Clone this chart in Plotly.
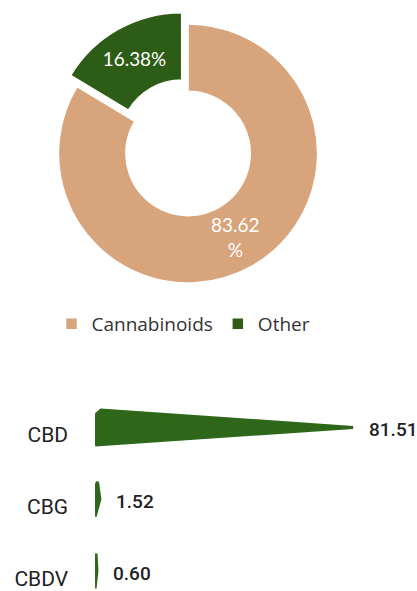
import math
import plotly.graph_objects as go

# ---- data ----
pie_labels = ["Cannabinoids", "Other"]
pie_values = [83.62, 16.38]
pie_colors = ["#D8A47C", "#2C5C16"]

bar_categories = ["CBD", "CBG", "CBDV"]
bar_values = [81.51, 1.52, 0.60]
bar_labels = ["81.51", "1.52", "0.60"]
bar_color = "#2E6719"

W, H = 417, 591
pie_dom_x = [0.108, 0.794]
pie_dom_y = [0.4975, 0.9814]
pie_hole = 0.48
pie_pull = [0, 0.1]

fig = go.Figure()

# ---- donut ----
pie_text = [f"{pie_values[0]:.2f}<br>%", f"{pie_values[1]:.2f}%"]
fig.add_trace(go.Pie(
    labels=pie_labels,
    values=pie_values,
    text=pie_text,
    textinfo="text",
    textposition=["none", "inside"],
    insidetextorientation="horizontal",
    insidetextfont=dict(family="Lato", size=19, color="white"),
    hole=pie_hole,
    sort=False,
    direction="clockwise",
    rotation=0,
    pull=pie_pull,
    marker=dict(colors=pie_colors, line=dict(color="white", width=1.5)),
    domain=dict(x=pie_dom_x, y=pie_dom_y),
    hoverinfo="label+percent",
    showlegend=True,
))

# label of the big slice placed at the middle of its ring section (computed from values)
box_w = (pie_dom_x[1] - pie_dom_x[0]) * W
box_h = (pie_dom_y[1] - pie_dom_y[0]) * H
r_out = min(box_w, box_h) / (2 + 2 * max(pie_pull))
r_mid = r_out * (1 + pie_hole) / 2
total = sum(pie_values)
theta = 2 * math.pi * (pie_values[0] / 2) / total
cx = sum(pie_dom_x) / 2
cy = sum(pie_dom_y) / 2
fig.add_annotation(
    x=cx + r_mid * math.sin(theta) / W,
    y=cy + r_mid * math.cos(theta) / H,
    xref="paper", yref="paper", text=pie_text[0], showarrow=False,
    xanchor="center", yanchor="middle", align="center",
    font=dict(family="Lato", size=19, color="white"),
)

# ---- tapered bars (drawn from values on the data axes) ----
half_h = 0.243
chamfer_y = 0.07
chamfer_x = 1.9
for i, (cat, v) in enumerate(zip(bar_categories, bar_values)):
    cw = min(chamfer_x, v * 0.5)
    xs = [0, 0, cw, v, 0]
    ys = [i + half_h, i - half_h + chamfer_y, i - half_h, i, i + half_h]
    fig.add_trace(go.Scatter(
        x=xs, y=ys, mode="lines", fill="toself",
        fillcolor=bar_color, line=dict(color=bar_color, width=3),
        xaxis="x", yaxis="y", showlegend=False, hoverinfo="skip",
    ))
    fig.add_annotation(
        x=v, y=i, xref="x", yref="y", text=bar_labels[i],
        showarrow=False, xanchor="left", yanchor="middle", xshift=14, yshift=-2,
        font=dict(family="Roboto", size=19, color="#222222", weight=500),
    )

fig.update_layout(
    width=W, height=H,
    margin=dict(l=0, r=0, t=0, b=0),
    paper_bgcolor="white", plot_bgcolor="white",
    legend=dict(
        orientation="h", x=0.44, xanchor="center", y=0.45, yanchor="middle",
        font=dict(family="Open Sans", size=19, color="#333333"),
        itemwidth=30, traceorder="normal",
    ),
    xaxis=dict(
        domain=[0.228, 1.0], range=[0, 101.7],
        showgrid=False, zeroline=False, showticklabels=False, showline=False,
        anchor="y",
    ),
    yaxis=dict(
        domain=[0.0, 0.347], range=[2.25, -0.597],
        tickvals=[i + 0.1 for i in range(len(bar_categories))],
        ticktext=bar_categories,
        showgrid=False, zeroline=False, showline=False,
        ticks="", ticklabelstandoff=26, ticklabeloverflow="allow",
        tickfont=dict(family="Roboto", size=21, color="#222222"),
        anchor="x",
    ),
)

fig.write_html("out.html", config={"displayModeBar": False},
               post_script="document.body.style.margin='0';")
